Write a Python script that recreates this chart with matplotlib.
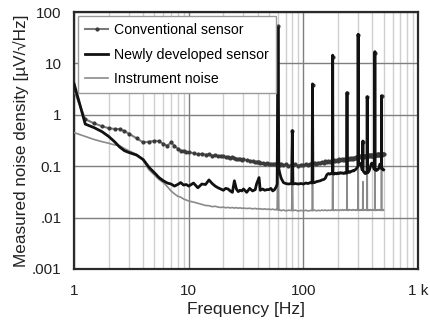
import matplotlib
matplotlib.use("Agg")
import matplotlib.pyplot as plt
from matplotlib.ticker import FixedLocator, FixedFormatter, NullFormatter, NullLocator

plt.rcParams['font.family'] = ['Liberation Sans', 'DejaVu Sans']

# ---------------- data ----------------
freq_hz = [1, 1.25, 1.5, 1.75, 2, 2.25, 2.5, 2.75, 3, 3.5, 4, 4.5, 5, 5.5, 6, 6.5, 7, 7.5, 8, 8.5, 9, 9.5,
           10, 11, 12, 13, 14, 15, 16, 17, 18, 19, 20, 21, 22, 23, 24, 25, 26, 27, 28, 29, 30,
           32, 34, 36, 38, 39, 40, 41, 42, 44, 46, 48, 50, 52, 54, 56, 58,
           59, 60, 61, 62, 64, 67, 70, 74, 79, 80, 81, 85, 90, 95, 100, 105, 110, 115, 119, 120, 121,
           125, 130, 135, 140, 145, 150, 155, 160, 165, 170, 175, 179, 180, 181, 185, 190, 195, 200,
           205, 210, 215, 220, 225, 230, 235, 239, 240, 241, 245, 250, 255, 260, 265, 270, 275, 280,
           285, 290, 295, 299, 300, 301, 305, 310, 315, 320, 325, 329, 330, 331, 335, 340, 345, 350,
           355, 359, 360, 361, 365, 370, 375, 380, 385, 390, 395, 400, 405, 410, 415, 419, 420, 421,
           425, 430, 435, 440, 445, 450, 455, 460, 465, 470, 475, 479, 480, 481, 485, 490, 495, 500]

conventional = [3.0, 0.82, 0.68, 0.60, 0.55, 0.53, 0.53, 0.48, 0.43, 0.35, 0.29, 0.30, 0.31, 0.31, 0.27, 0.25, 0.29, 0.25, 0.22, 0.20, 0.20, 0.19,
                0.185, 0.18, 0.17, 0.175, 0.168, 0.17, 0.16, 0.165, 0.158, 0.16, 0.155, 0.15, 0.152, 0.145, 0.148, 0.142, 0.14, 0.138, 0.14, 0.133, 0.135,
                0.13, 0.128, 0.125, 0.12, 0.122, 0.121, 0.119, 0.118, 0.115, 0.112, 0.115, 0.11, 0.112, 0.108, 0.11, 0.112,
                0.108, 54, 0.11, 0.105, 0.112, 0.104, 0.108, 0.103, 0.106, 0.48, 0.104, 0.108, 0.103, 0.107, 0.105, 0.109, 0.106, 0.112, 0.110, 3.8, 0.113,
                0.115, 0.112, 0.118, 0.115, 0.121, 0.118, 0.124, 0.121, 0.127, 0.123, 0.129, 0.126, 13.5, 0.128, 0.131, 0.127, 0.133, 0.129,
                0.135, 0.131, 0.136, 0.132, 0.138, 0.134, 0.139, 0.136, 2.6, 0.138, 0.141, 0.137, 0.143, 0.139, 0.145, 0.141, 0.147, 0.143,
                0.149, 0.145, 0.151, 0.148, 36, 0.152, 0.149, 0.155, 0.151, 0.157, 0.153, 0.158, 0.30, 0.156, 0.159, 0.154, 0.160, 0.156,
                0.161, 0.157, 2.2, 0.160, 0.157, 0.162, 0.158, 0.163, 0.159, 0.164, 0.160, 0.165, 0.161, 0.166, 0.162, 0.167, 16, 0.163,
                0.168, 0.164, 0.169, 0.165, 0.170, 0.166, 0.171, 0.167, 0.172, 0.168, 0.173, 0.169, 2.3, 0.171, 0.168, 0.173, 0.169, 0.172]

newly_developed = [4.0, 0.66, 0.56, 0.47, 0.38, 0.30, 0.235, 0.20, 0.185, 0.165, 0.135, 0.095, 0.075, 0.060, 0.052, 0.047, 0.045, 0.041, 0.044, 0.048, 0.043, 0.044,
                   0.041, 0.047, 0.038, 0.045, 0.044, 0.054, 0.046, 0.041, 0.038, 0.036, 0.034, 0.037, 0.036, 0.033, 0.031, 0.052, 0.036, 0.032, 0.034, 0.033, 0.036,
                   0.031, 0.037, 0.033, 0.035, 0.045, 0.052, 0.060, 0.034, 0.036, 0.034, 0.035, 0.035, 0.037, 0.033, 0.035, 0.040,
                   0.045, 50, 0.09, 0.075, 0.058, 0.048, 0.046, 0.045, 0.046, 0.49, 0.045, 0.046, 0.045, 0.046, 0.045, 0.047, 0.046, 0.048, 0.047, 4.0, 0.048,
                   0.048, 0.050, 0.051, 0.052, 0.054, 0.055, 0.058, 0.068, 0.072, 0.070, 0.073, 0.071, 14.5, 0.072, 0.070, 0.073, 0.071, 0.074,
                   0.072, 0.075, 0.073, 0.074, 0.072, 0.075, 0.073, 0.074, 2.7, 0.074, 0.076, 0.078, 0.076, 0.079, 0.080, 0.082, 0.081, 0.084,
                   0.086, 0.090, 0.095, 0.10, 37, 0.105, 0.11, 0.115, 0.11, 0.10, 0.085, 0.09, 0.31, 0.085, 0.078, 0.075, 0.072, 0.074,
                   0.073, 0.075, 2.25, 0.076, 0.075, 0.078, 0.082, 0.09, 0.10, 0.11, 0.115, 0.11, 0.10, 0.092, 0.088, 0.086, 17, 0.085,
                   0.084, 0.083, 0.085, 0.084, 0.086, 0.088, 0.092, 0.10, 0.11, 0.105, 0.095, 0.092, 2.35, 0.09, 0.088, 0.09, 0.086, 0.085]

instrument = [0.45, 0.38, 0.33, 0.30, 0.28, 0.26, 0.25, 0.22, 0.20, 0.17, 0.13, 0.085, 0.068, 0.055, 0.048, 0.040, 0.033, 0.029, 0.026, 0.025, 0.023, 0.022,
              0.021, 0.020, 0.019, 0.018, 0.0172, 0.017, 0.0163, 0.0166, 0.016, 0.0157, 0.016, 0.0155, 0.0158, 0.0154, 0.0157, 0.0153, 0.0156, 0.0152, 0.0155, 0.0151, 0.0153,
              0.0150, 0.0152, 0.0148, 0.0151, 0.0147, 0.0150, 0.0146, 0.0149, 0.0145, 0.0148, 0.0144, 0.0147, 0.0143, 0.0146, 0.0142, 0.0144,
              0.0140, 0.3, 0.0138, 0.0142, 0.0136, 0.0141, 0.0135, 0.0139, 0.0137, 0.1, 0.0136, 0.0140, 0.0134, 0.0138, 0.0135, 0.0139, 0.0134, 0.0138, 0.0136, 0.3, 0.0137,
              0.0140, 0.0135, 0.0139, 0.0136, 0.0140, 0.0137, 0.0141, 0.0136, 0.0140, 0.0137, 0.0141, 0.0138, 0.4, 0.0140, 0.0137, 0.0142, 0.0138, 0.0141,
              0.0137, 0.0142, 0.0138, 0.0143, 0.0138, 0.0142, 0.0139, 0.0141, 0.3, 0.0140, 0.0137, 0.0143, 0.0139, 0.0142, 0.0138, 0.0143, 0.0139, 0.0142,
              0.0138, 0.0143, 0.0139, 0.0141, 0.5, 0.0140, 0.0137, 0.0142, 0.0138, 0.0143, 0.0139, 0.0142, 0.05, 0.0140, 0.0138, 0.0143, 0.0139, 0.0142,
              0.0138, 0.0141, 0.3, 0.0140, 0.0137, 0.0142, 0.0138, 0.0143, 0.0139, 0.0142, 0.0138, 0.0143, 0.0139, 0.0142, 0.0138, 0.0141, 0.4, 0.0140,
              0.0137, 0.0142, 0.0138, 0.0143, 0.0139, 0.0142, 0.0138, 0.0143, 0.0139, 0.0142, 0.0138, 0.0141, 0.3, 0.0140, 0.0137, 0.0142, 0.0138, 0.0141]

series_labels = ["Conventional sensor", "Newly developed sensor", "Instrument noise"]

x_ticks = [1, 10, 100, 1000]
x_tick_labels = ["1", "10", "100", "1 k"]
y_ticks = [0.001, 0.01, 0.1, 1, 10, 100]
y_tick_labels = [".001", ".01", "0.1", "1", "10", "100"]

# ---------------- figure ----------------
fig = plt.figure(figsize=(4.31, 3.26), dpi=100)
ax = fig.add_axes([0.172, 0.175, 0.798, 0.788])

ax.set_xscale('log')
ax.set_yscale('log')
ax.set_xlim(1, 1000)
ax.set_ylim(0.001, 100)

# grid
minor_x = [m * d for d in (1, 10, 100) for m in range(2, 10)]
ax.xaxis.set_major_locator(FixedLocator(x_ticks))
ax.xaxis.set_major_formatter(FixedFormatter(x_tick_labels))
ax.xaxis.set_minor_locator(FixedLocator(minor_x))
ax.xaxis.set_minor_formatter(NullFormatter())
ax.yaxis.set_major_locator(FixedLocator(y_ticks))
ax.yaxis.set_major_formatter(FixedFormatter(y_tick_labels))
ax.yaxis.set_minor_locator(NullLocator())

ax.grid(which='minor', axis='x', color='#cfcfcf', linewidth=1.0)
ax.grid(which='major', axis='both', color='#7f7f7f', linewidth=1.0)
ax.set_axisbelow(True)

ax.tick_params(which='both', length=0, labelsize=11, colors='#222222')
ax.tick_params(axis='x', pad=11)
ax.tick_params(axis='y', pad=9)

for s in ax.spines.values():
    s.set_linewidth(1.6)
    s.set_color('#2a2a2a')

# lines
ax.plot(freq_hz, instrument, color='#8a8a8a', linewidth=1.2, label=series_labels[2], zorder=3)
ax.plot(freq_hz, conventional, color='#7a7a7a', linewidth=1.5, marker='o', markersize=2.0,
        markerfacecolor='#3a3a3a', markeredgecolor='#3a3a3a', label=series_labels[0], zorder=4)
ax.plot(freq_hz, newly_developed, color='#111111', linewidth=2.0, label=series_labels[1], zorder=5)

handles, labels = ax.get_legend_handles_labels()
order = [1, 2, 0]
leg = ax.legend([handles[i] for i in order], [labels[i] for i in order],
                loc='upper left', bbox_to_anchor=(0.0, 1.0), fontsize=10.2,
                frameon=True, fancybox=False, edgecolor='#9a9a9a', framealpha=1.0,
                borderaxespad=0.3, handlelength=1.6, handletextpad=0.4,
                labelspacing=0.72, borderpad=0.5)
leg.get_frame().set_linewidth(1.0)
leg.set_zorder(10)

ax.set_xlabel("Frequency [Hz]", fontsize=12.5, color='#222222', labelpad=3)
ax.set_ylabel("Measured noise density [µV/√Hz]", fontsize=12.3, color='#222222', labelpad=2)

fig.savefig("out.png", dpi=100)
